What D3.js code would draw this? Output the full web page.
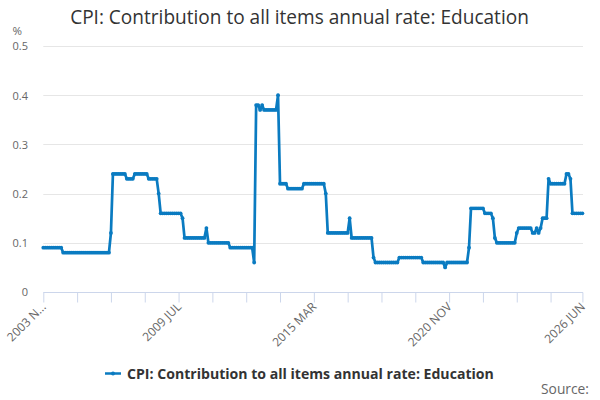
<!DOCTYPE html>
<html><head><meta charset="utf-8">
<script src="https://cdn.jsdelivr.net/npm/d3@7"></script>
<style>
html,body{margin:0;padding:0;background:#fff;}
svg{display:block;font-family:"Open Sans",sans-serif;}
</style></head>
<body><svg id="chart" width="600" height="400"></svg>
<script>
const title = "CPI: Contribution to all items annual rate: Education";
const seriesName = "CPI: Contribution to all items annual rate: Education";
const startMonth = "2003-11";
const endMonth = "2026-06";
// monthly values, Nov 2003 .. Jun 2026
const values = [
 0.09,0.09,0.09,0.09,0.09,0.09,0.09,0.09,0.09,0.09,
 0.08,0.08,0.08,0.08,0.08,0.08,0.08,0.08,0.08,0.08,0.08,0.08,0.08,0.08,0.08,0.08,0.08,0.08,0.08,0.08,0.08,0.08,0.08,0.08,
 0.12,
 0.24,0.24,0.24,0.24,0.24,0.24,0.24,
 0.23,0.23,0.23,0.23,
 0.24,0.24,0.24,0.24,0.24,0.24,0.24,
 0.23,0.23,0.23,0.23,0.23,
 0.20,
 0.16,0.16,0.16,0.16,0.16,0.16,0.16,0.16,0.16,0.16,0.16,
 0.15,
 0.11,0.11,0.11,0.11,0.11,0.11,0.11,0.11,0.11,0.11,0.11,
 0.13,
 0.10,0.10,0.10,0.10,0.10,0.10,0.10,0.10,0.10,0.10,0.10,
 0.09,0.09,0.09,0.09,0.09,0.09,0.09,0.09,0.09,0.09,0.09,0.09,
 0.06,
 0.38,0.38,0.37,0.38,0.37,
 0.37,0.37,0.37,0.37,0.37,0.37,
 0.40,
 0.22,0.22,0.22,0.22,
 0.21,0.21,0.21,0.21,0.21,0.21,0.21,0.21,
 0.22,0.22,0.22,0.22,0.22,0.22,0.22,0.22,0.22,0.22,0.22,
 0.20,
 0.12,0.12,0.12,0.12,0.12,0.12,0.12,0.12,0.12,0.12,0.12,
 0.15,
 0.11,0.11,0.11,0.11,0.11,0.11,0.11,0.11,0.11,0.11,0.11,
 0.07,
 0.06,0.06,0.06,0.06,0.06,0.06,0.06,0.06,0.06,0.06,0.06,0.06,
 0.07,0.07,0.07,0.07,0.07,0.07,0.07,0.07,0.07,0.07,0.07,0.07,
 0.06,0.06,0.06,0.06,0.06,0.06,0.06,0.06,0.06,0.06,0.06,
 0.05,
 0.06,0.06,0.06,0.06,0.06,0.06,0.06,0.06,0.06,0.06,0.06,
 0.09,
 0.17,0.17,0.17,0.17,0.17,0.17,0.17,
 0.16,0.16,0.16,0.16,
 0.15,
 0.11,
 0.10,0.10,0.10,0.10,0.10,0.10,0.10,0.10,0.10,0.10,
 0.12,
 0.13,0.13,0.13,0.13,0.13,0.13,0.13,
 0.12,0.12,0.13,0.12,0.13,
 0.15,0.15,0.15,
 0.23,
 0.22,0.22,0.22,0.22,0.22,0.22,0.22,0.22,
 0.24,0.24,0.23,
 0.16,0.16,0.16,0.16,0.16,0.16
];
const yTicks = [0, 0.1, 0.2, 0.3, 0.4, 0.5];
const yTickLabels = ["0", "0.1", "0.2", "0.3", "0.4", "0.5"];
const xTickMonths = ["2003-11", "2009-07", "2015-03", "2020-11", "2026-06"];
const xTickLabels = ["2003 N...", "2009 JUL", "2015 MAR", "2020 NOV", "2026 JUN"];
const yUnit = "%";
const sourceText = "Source:";

const parse = d3.timeParse("%Y-%m");
const fmt = d3.timeFormat("%Y-%m");
const months = d3.timeMonth.range(parse(startMonth), d3.timeMonth.offset(parse(endMonth), 1)).map(fmt);
const data = months.map((m, i) => ({m, v: values[i]}));

const color = "#0a7bc1";
const svg = d3.select("#chart");
const margin = {left: 43.3, right: 17.6, top: 46, bottom: 108};
const W = 600, H = 400;

function fit(sel, width) {
  const fs = parseFloat(sel.attr("font-size"));
  const w = sel.node().getComputedTextLength();
  if (w > 0) sel.attr("font-size", (fs * width / w).toFixed(2));
  return sel;
}

const x = d3.scalePoint().domain(months).range([margin.left, W - margin.right]);
const y = d3.scaleLinear().domain([0, 0.5]).range([H - margin.bottom, margin.top]);

// title
const t = svg.append("text").attr("x", 299.5).attr("y", 24.3).attr("text-anchor", "middle")
  .attr("font-size", 18).attr("fill", "#333").text(title);
fit(t, 459);

// gridlines
svg.append("g").selectAll("line").data(yTicks.filter(t => t > 0)).join("line")
  .attr("x1", margin.left).attr("x2", W - margin.right + 0.6)
  .attr("y1", d => Math.round(y(d)) + 0.5).attr("y2", d => Math.round(y(d)) + 0.5)
  .attr("stroke", "#e6e6e6").attr("stroke-width", 1);

// y axis labels
const yAxis = d3.axisLeft(y).tickValues(yTicks).tickSize(0).tickPadding(0)
  .tickFormat((d, i) => yTickLabels[i]);
const gy = svg.append("g").attr("transform", "translate(28,0)").call(yAxis);
gy.select(".domain").remove();
gy.selectAll("text").attr("font-size", 11).attr("fill", "#666").attr("font-family", "Open Sans, sans-serif").attr("dy", "0.35em");

svg.append("text").attr("x", 12.5).attr("y", 35).attr("font-size", 11.5).attr("fill", "#666").text(yUnit);

// x axis with minor ticks every 17 months plus final month
const tickIdx = d3.range(0, months.length, 17);
if (tickIdx[tickIdx.length - 1] !== months.length - 1) tickIdx.push(months.length - 1);
const xAxis = d3.axisBottom(x).tickValues(tickIdx.map(i => months[i])).tickSize(10)
  .tickFormat(d => { const k = xTickMonths.indexOf(d); return k >= 0 ? xTickLabels[k] : ""; });
const gx = svg.append("g").attr("transform", `translate(0,${y(0) + 0.5})`).call(xAxis);
gx.select(".domain").attr("stroke", "#ccd6eb").attr("d", `M${margin.left},0H${W - margin.right + 0.6}`);
gx.selectAll(".tick line").attr("stroke", "#ccd6eb");
gx.selectAll(".tick text").attr("font-size", 12).attr("fill", "#666")
  .attr("font-family", "Open Sans, sans-serif")
  .attr("text-anchor", "end").attr("dy", 0)
  .attr("transform", "translate(3,15) rotate(-45)").attr("y", 0).attr("x", 0);

// line
const line = d3.line().x(d => x(d.m)).y(d => y(d.v));
svg.append("path").datum(data).attr("d", line).attr("fill", "none")
  .attr("stroke", color).attr("stroke-width", 2.7).attr("stroke-linejoin", "round");
svg.append("g").selectAll("circle").data(data).join("circle")
  .attr("cx", d => x(d.m)).attr("cy", d => y(d.v)).attr("r", 1.9).attr("fill", color);

// legend
const lg = svg.append("g");
lg.append("line").attr("x1", 105).attr("x2", 121).attr("y1", 373.5).attr("y2", 373.5)
  .attr("stroke", color).attr("stroke-width", 2.5);
lg.append("circle").attr("cx", 113).attr("cy", 373.5).attr("r", 2).attr("fill", color);
const lt = lg.append("text").attr("x", 127).attr("y", 378.5).attr("font-size", 14).attr("font-weight", "bold")
  .attr("fill", "#333").text(seriesName);
fit(lt, 367);

const st = svg.append("text").attr("x", 589).attr("y", 394).attr("text-anchor", "end")
  .attr("font-size", 13).attr("fill", "#666").text(sourceText);
fit(st, 48);
</script></body></html>
